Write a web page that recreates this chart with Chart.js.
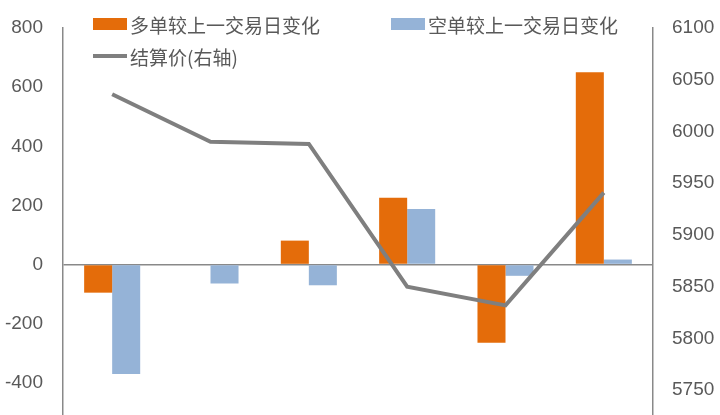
<!DOCTYPE html>
<html>
<head>
<meta charset="utf-8">
<script src="https://cdn.jsdelivr.net/npm/chart.js@4/dist/chart.umd.min.js"></script>
<style>
    html, body { margin: 0; padding: 0; background: #fff; }
    #wrap { position: relative; width: 720px; height: 415px; overflow: hidden; }
    #legend { position: absolute; left: 93px; top: 8px; width: 600px; display: flex; flex-wrap: wrap;
              font-family: 'Noto Sans CJK SC', sans-serif; font-size: 19px; color: #595959; }
    .item { width: 298px; height: 32px; display: flex; align-items: center; }
    .swatch { width: 34px; margin-right: 3px; }
</style>
</head>
<body>
<div id="wrap">
    <canvas id="chart" width="720" height="470"></canvas>
    <div id="legend"></div>
</div>
<script>
// Chart data
const categories = ['1', '2', '3', '4', '5', '6'];
const longChange = [-95, 0, 81, 226, -264, 650];
const shortChange = [-370, -64, -70, 188, -38, 17];
const settlePrice = [6036, 5990, 5988, 5850, 5832, 5941];
const leftTicks = { min: -600, max: 800, step: 200 };
const rightTicks = { min: 5700, max: 6100, step: 50 };

const textColor = '#595959';
const axisColor = '#898989';
const clear = 'rgba(0,0,0,0)';
const tickFont = { family: "'Liberation Sans', 'Noto Sans CJK SC', sans-serif", size: 19 };

const chart = new Chart(document.getElementById('chart').getContext('2d'), {
    type: 'bar',
    data: {
        labels: categories,
        datasets: [
            {
                type: 'line',
                label: '结算价(右轴)',
                data: settlePrice,
                yAxisID: 'y1',
                borderColor: '#7F7F7F',
                backgroundColor: '#7F7F7F',
                borderWidth: 4,
                pointRadius: 0,
                tension: 0,
                order: 0
            },
            {
                label: '多单较上一交易日变化',
                data: longChange,
                yAxisID: 'y',
                backgroundColor: '#E46C0A',
                categoryPercentage: 0.57,
                barPercentage: 1.0,
                order: 1
            },
            {
                label: '空单较上一交易日变化',
                data: shortChange,
                yAxisID: 'y',
                backgroundColor: '#95B3D7',
                categoryPercentage: 0.57,
                barPercentage: 1.0,
                order: 1
            }
        ]
    },
    options: {
        responsive: false,
        animation: false,
        layout: { padding: { top: 28, bottom: 28, left: 0, right: 0 } },
        plugins: {
            legend: { display: false },
            tooltip: { enabled: false }
        },
        scales: {
            x: { display: false },
            y: {
                position: 'left',
                min: leftTicks.min,
                max: leftTicks.max,
                afterFit: function(scale) { scale.width = 63; },
                ticks: { stepSize: leftTicks.step, color: textColor, font: tickFont, padding: 0 },
                grid: {
                    drawTicks: true,
                    tickLength: 20,
                    tickColor: clear,
                    lineWidth: 1.5,
                    color: function(ctx) {
                        return ctx.tick && ctx.tick.value === 0 ? axisColor : clear;
                    }
                },
                border: { display: true, color: axisColor, width: 1.5 }
            },
            y1: {
                position: 'right',
                min: rightTicks.min,
                max: rightTicks.max,
                afterFit: function(scale) { scale.width = 67; },
                ticks: {
                    stepSize: rightTicks.step,
                    color: textColor,
                    font: tickFont,
                    padding: 0,
                    callback: function(value) { return String(value); }
                },
                grid: { drawOnChartArea: false, drawTicks: true, tickLength: 19, color: clear, tickColor: clear },
                border: { display: true, color: axisColor, width: 1.5 }
            }
        }
    }
});

// HTML legend: bars first, then the line
const legendEl = document.getElementById('legend');
[1, 2, 0].forEach(i => {
    const ds = chart.data.datasets[i];
    const item = document.createElement('div');
    item.className = 'item';
    const sw = document.createElement('span');
    sw.className = 'swatch';
    if (ds.type === 'line') {
        sw.style.height = '4px';
        sw.style.background = ds.borderColor;
    } else {
        sw.style.height = '12px';
        sw.style.background = ds.backgroundColor;
    }
    const txt = document.createElement('span');
    txt.textContent = ds.label;
    item.appendChild(sw);
    item.appendChild(txt);
    legendEl.appendChild(item);
});
</script>
</body>
</html>
